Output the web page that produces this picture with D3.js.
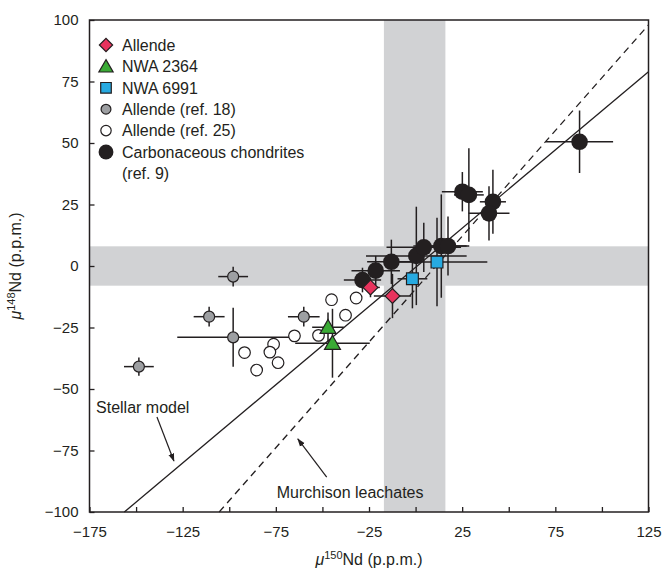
<!DOCTYPE html>
<html><head><meta charset="utf-8">
<script src="https://cdn.jsdelivr.net/npm/d3@7"></script>
<style>body{margin:0;background:#fff} text{font-family:"Liberation Sans",Arial,Helvetica,sans-serif;fill:#231f20}</style>
</head><body><svg id="c" width="667" height="572"></svg>
<script>
// ---------- data ----------
const xDomain = [-175, 125];
const yDomain = [-100, 100];
const xTickValues = [-175,-150,-125,-100,-75,-50,-25,0,25,50,75,100,125];
const xTickLabels = [-175,-125,-75,-25,25,75,125];
const yTickValues = [-100,-75,-50,-25,0,25,50,75,100];
const bandX = [-17, 16];
const bandY = [-8, 8];
const stellarModel = [[-156.3,-100],[125,79]];
const murchisonLeachates = [[-105.4,-100],[125,98]];
// [x, y, xerr, yerr]
const allende = [[-24.2,-8.7,5,4],[-12.4,-12.2,10,9]];
const nwa2364 = [[-47,-24.9,8.5,6],[-44.6,-31.4,20,14]];
const nwa6991 = [[-1.7,-5.2,8,12],[11.5,1.6,27,18]];
const allendeRef18 = [[-97.9,-4.3,8,4],[-110.8,-20.6,8.3,4],[-97.9,-29,30,12],[-148.5,-40.9,8,3.7],[-60,-20.6,8.5,4]];
const allendeRef25 = [[-45.1,-13.7],[-31.9,-13.0],[-37.6,-20.0],[-65.0,-28.4],[-52.1,-28.2],[-76.2,-31.8],[-78.2,-35.0],[-91.8,-35.2],[-73.8,-39.3],[-85.3,-42.3]];
const chondrites = [[-28.5,-5.7,10,5],[-21.4,-1.9,13,6],[-13,1.7,13,9],[0.4,4.1,27,20],[4.4,7.6,20,10],[13.8,8.1,15,21],[17.4,8.1,10,12],[25.1,30.2,11,8],[28.6,28.9,8,19],[41.5,26.1,7,13],[39.4,21.4,11,11],[88,50.5,18,12.7]];
const legendLabels = ["Allende","NWA 2364","NWA 6991","Allende (ref. 18)","Allende (ref. 25)","Carbonaceous chondrites","(ref. 9)"];
const annotations = [
  {text:"Stellar model", x:-171.5, y:-59.8, arrow:[[-138.8,-61.4],[-129.7,-79.3]]},
  {text:"Murchison leachates", x:-74.5, y:-94.3, arrow:[[-47.7,-85.8],[-63.2,-70.3]]}
];

// ---------- layout ----------
const L = 89.5, R = 648.5, T = 20, B = 512;
const svg = d3.select("#c");
const x = d3.scaleLinear().domain(xDomain).range([L, R]);
const y = d3.scaleLinear().domain(yDomain).range([B, T]);
const ink = "#231f20";
const fmt = v => (v < 0 ? "\u2212" + Math.abs(v) : String(v));

svg.append("defs").append("marker")
  .attr("id","arr").attr("viewBox","0 0 10 10").attr("refX",9).attr("refY",5)
  .attr("markerWidth",7).attr("markerHeight",7).attr("orient","auto")
  .append("path").attr("d","M0,1.5 L10,5 L0,8.5 Z").attr("fill",ink);

// bands
svg.append("rect").attr("x",L).attr("width",R-L).attr("y",y(bandY[1])).attr("height",y(bandY[0])-y(bandY[1])).attr("fill","#d1d2d4");
svg.append("rect").attr("x",x(bandX[0])).attr("width",x(bandX[1])-x(bandX[0])).attr("y",T).attr("height",B-T).attr("fill","#d1d2d4");

// model lines
const line = d3.line().x(d=>x(d[0])).y(d=>y(d[1]));
svg.append("path").attr("d",line(stellarModel)).attr("stroke",ink).attr("stroke-width",1.3).attr("fill","none");
svg.append("path").attr("d",line(murchisonLeachates)).attr("stroke",ink).attr("stroke-width",1.3).attr("fill","none").attr("stroke-dasharray","7,5");

// error bars
const eb = svg.append("g").attr("stroke",ink).attr("stroke-width",1.5);
[allendeRef18, chondrites, nwa2364, allende, nwa6991].forEach(s => s.forEach(d => {
  eb.append("line").attr("x1",x(d[0]-d[2])).attr("x2",x(d[0]+d[2])).attr("y1",y(d[1])).attr("y2",y(d[1]));
  eb.append("line").attr("x1",x(d[0])).attr("x2",x(d[0])).attr("y1",y(d[1]-d[3])).attr("y2",y(d[1]+d[3]));
}));

// markers
const styles = {
  diamond: {type:d3.symbolSquare, size:110, rot:45, fill:"#e8335d"},
  tri: {type:d3.symbolTriangle, size:110, rot:0, fill:"#3aaa35"},
  square: {type:d3.symbolSquare, size:140, rot:0, fill:"#27aae1"},
  gray: {type:d3.symbolCircle, size:Math.PI*5.5*5.5, rot:0, fill:"#9d9fa2"},
  open: {type:d3.symbolCircle, size:Math.PI*5.8*5.8, rot:0, fill:"#ffffff"},
  black: {type:d3.symbolCircle, size:Math.PI*8.3*8.3, rot:0, fill:ink, noStroke:true}
};
function drawSym(g, st, px, py, dy=0) {
  g.append("path").attr("d", d3.symbol().type(st.type).size(st.size)())
    .attr("transform", `translate(${px},${py+dy}) rotate(${st.rot})`)
    .attr("fill", st.fill).attr("stroke", st.noStroke ? "none" : ink).attr("stroke-width", 1.2);
}
const mk = svg.append("g");
allendeRef25.forEach(d => drawSym(mk, styles.open, x(d[0]), y(d[1])));
allendeRef18.forEach(d => drawSym(mk, styles.gray, x(d[0]), y(d[1])));
chondrites.forEach(d => drawSym(mk, styles.black, x(d[0]), y(d[1])));
nwa2364.forEach(d => drawSym(mk, styles.tri, x(d[0]), y(d[1]), 1.5));
allende.forEach(d => drawSym(mk, styles.diamond, x(d[0]), y(d[1])));
nwa6991.forEach(d => drawSym(mk, styles.square, x(d[0]), y(d[1])));

// axes
const xAxis = d3.axisBottom(x).tickValues(xTickValues).tickSizeInner(-5).tickSizeOuter(0).tickPadding(14)
  .tickFormat(v => xTickLabels.includes(v) ? fmt(v) : "");
const gx = svg.append("g").attr("transform",`translate(0,${B})`).call(xAxis);
const yAxis = d3.axisLeft(y).tickValues(yTickValues).tickSizeInner(-5).tickSizeOuter(0).tickPadding(11).tickFormat(fmt);
const gy = svg.append("g").attr("transform",`translate(${L},0)`).call(yAxis);
[gx,gy].forEach(g => {
  g.select(".domain").remove();
  g.selectAll(".tick line").attr("stroke",ink).attr("stroke-width",1.3);
  g.selectAll(".tick text").attr("font-size",15).attr("fill",ink).style("font-family",'"Liberation Sans",Arial,sans-serif');
});
svg.append("rect").attr("x",L).attr("y",T).attr("width",R-L).attr("height",B-T).attr("fill","none").attr("stroke",ink).attr("stroke-width",1.5);

// axis titles
const xt = svg.append("text").attr("x",(L+R)/2).attr("y",565).attr("text-anchor","middle").attr("font-size",16);
xt.append("tspan").attr("font-style","italic").text("\u03bc");
xt.append("tspan").attr("font-size",11).attr("dy",-6).text("150");
xt.append("tspan").attr("dy",6).text("Nd (p.p.m.)");
const yt = svg.append("text").attr("transform",`translate(21,${(T+B)/2}) rotate(-90)`).attr("text-anchor","middle").attr("font-size",16);
yt.append("tspan").attr("font-style","italic").text("\u03bc");
yt.append("tspan").attr("font-size",11).attr("dy",-6).text("148");
yt.append("tspan").attr("dy",6).text("Nd (p.p.m.)");

// annotations
annotations.forEach(a => {
  svg.append("text").attr("x",x(a.x)).attr("y",y(a.y)).attr("font-size",16).text(a.text);
  svg.append("line").attr("x1",x(a.arrow[0][0])).attr("y1",y(a.arrow[0][1])).attr("x2",x(a.arrow[1][0])).attr("y2",y(a.arrow[1][1]))
    .attr("stroke",ink).attr("stroke-width",1.2).attr("marker-end","url(#arr)");
});

// legend
const lg = svg.append("g");
const legendStyles = [styles.diamond, styles.tri, styles.square, styles.gray, styles.open, styles.black];
const rowY = i => 45 + i*21.4;
legendLabels.forEach((t,i) => {
  if (i < legendStyles.length) {
    const st = Object.assign({}, legendStyles[i]);
    st.size = st.size*0.8;
    drawSym(lg, st, 106, rowY(i), i===1?1.5:0);
  }
  lg.append("text").attr("x",122).attr("y",rowY(i)).attr("dy","0.36em").attr("font-size",16).text(t);
});
</script></body></html>
